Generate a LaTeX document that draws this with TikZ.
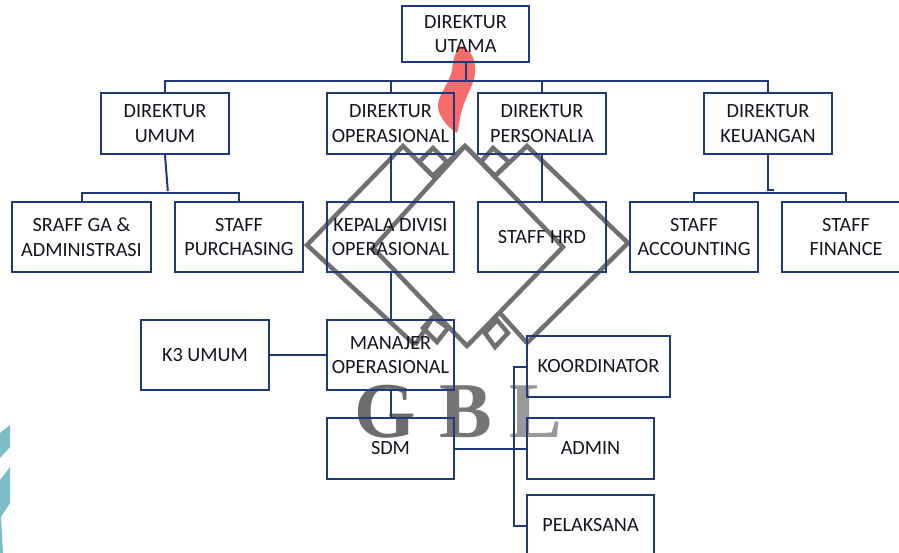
\documentclass[tikz,border=0pt]{standalone}
\usepackage{fontspec}
\setmainfont{Carlito}
\newfontfamily\wmfont{Liberation Serif}
\definecolor{boxline}{HTML}{1F3A78}
\definecolor{wmgrey}{HTML}{707070}
\definecolor{smear}{HTML}{F96B6B}
\definecolor{tealbar}{HTML}{7ABDC6}
\definecolor{inktext}{HTML}{14141E}
\tikzset{
  orgbox/.style={draw=boxline,line width=2pt,minimum width=#1,inner sep=0pt,align=center,
    font=\fontsize{20.2}{24.5}\selectfont,text=inktext},
  orgbox/.default=127.5pt,
  link/.style={draw=boxline,line width=2pt},
  wmline/.style={draw=wmgrey,line width=4.5pt,line join=miter}
}
\begin{document}
\begin{tikzpicture}[x=1pt,y=-1pt]
\useasboundingbox (0,0) rectangle (899,553);
% background marks
\fill[tealbar] (0,433) -- (10,425) -- (10,447) -- (0,458) -- cycle;
\fill[tealbar] (0,480) -- (10,467) -- (10,503) -- (1,517) -- (3,553) -- (0,553) -- cycle;
% watermark
\draw[wmline] (433,176) -- (403,146) -- (307,245) -- (415,345);
\draw[wmline] (465,146) -- (373,248) -- (467,346) -- (563,247) -- cycle;
\draw[wmline] (433,176) -- (465,146);
\draw[wmline] (495,176) -- (527,146) -- (628,243) -- (527,343);
\draw[wmline] (495,176) -- (465,146);
\draw[wmline] (500,313) -- (527,343);
\draw[wmline] (433,317) -- (415,345);
\draw[wmline] (433,148) -- (447,162) -- (433,176) -- (419,162) -- cycle;
\draw[wmline] (493,148) -- (509,162) -- (495,176) -- (481,162) -- cycle;
\draw[wmline] (433,317) -- (448,328) -- (437,342) -- (423,328) -- cycle;
\draw[wmline] (497,320) -- (508,333) -- (495,347) -- (485,333) -- cycle;
\node[anchor=base west,font=\wmfont\bfseries\fontsize{79}{79}\selectfont,inner sep=0pt] (gbl) at (354,437)
  {\textcolor[HTML]{6C6C6C}{G}\kern24pt\textcolor[HTML]{757575}{B}\kern17pt\textcolor[HTML]{999999}{L}};
% smear
\fill[smear] (462,46) .. controls (470,50) and (476,58) .. (475,73)
  .. controls (474,85) and (466,95) .. (462,110)
  .. controls (459,120) and (459,128) .. (457,133)
  .. controls (447,127) and (437,115) .. (438,104)
  .. controls (440,92) and (450,82) .. (452,70)
  .. controls (453,60) and (455,50) .. (462,46) -- cycle;
% boxes
\node[orgbox,minimum height=56pt] (ceo) at (465.5,34) {DIREKTUR\\UTAMA};
\node[orgbox,minimum height=61pt] (umum) at (165,123.5) {DIREKTUR\\UMUM};
\node[orgbox,minimum height=61pt] (ops) at (390.5,123.5) {DIREKTUR\\OPERASIONAL};
\node[orgbox,minimum height=61pt] (pers) at (542,123.5) {DIREKTUR\\PERSONALIA};
\node[orgbox,minimum height=61pt] (keu) at (768,123.5) {DIREKTUR\\KEUANGAN};
\node[orgbox=139pt,minimum height=70pt] (ga) at (81.5,237) {SRAFF GA \&\\ADMINISTRASI};
\node[orgbox,minimum height=70pt] (purch) at (239,237) {STAFF\\PURCHASING};
\node[orgbox,minimum height=70pt] (kadiv) at (390.5,237) {KEPALA DIVISI\\OPERASIONAL};
\node[orgbox,minimum height=70pt] (hrd) at (542,237) {STAFF HRD};
\node[orgbox,minimum height=70pt] (acc) at (694,237) {STAFF\\ACCOUNTING};
\node[orgbox,minimum height=70pt] (fin) at (846,237) {STAFF\\FINANCE};
\node[orgbox,minimum height=70pt] (k3) at (205,355) {K3 UMUM};
\node[orgbox,minimum height=70pt] (mgr) at (390.5,355) {MANAJER\\OPERASIONAL};
\node[orgbox,minimum height=61pt] (sdm) at (390.5,448.5) {SDM};
\node[orgbox=143pt,minimum height=61pt] (koor) at (598.5,366.5) {KOORDINATOR};
\node[orgbox,minimum height=61pt] (admin) at (590.5,448.5) {ADMIN};
\node[orgbox,minimum height=61pt] (pel) at (590.5,525.5) {PELAKSANA};
% connectors
\coordinate (busc) at (465.5,81);
\draw[link] (ceo.south) -- (busc);
\draw[link] (umum.north) |- (busc) -| (keu.north);
\draw[link] (ops.north) -- (ops.north |- busc);
\draw[link] (pers.north) -- (pers.north |- busc);
\coordinate (busu) at (167.5,193);
\coordinate (endu) at (167.8,191);
\draw[link] (umum.south) -- (endu);
\draw[link] (ga.north -| 82,0) |- (busu) -| (purch.north);
\coordinate (busk) at (771,193);
\coordinate (jog) at (768,190);
\coordinate (jogend) at (774,190);
\draw[link] (keu.south) -- (jog) -- (jogend);
\draw[link] (acc.north) |- (busk) -| (fin.north);
\draw[link] (ops.south) -- (kadiv.north);
\draw[link] (pers.south) -- (hrd.north);
\draw[link] (kadiv.south) -- (mgr.north);
\draw[link] (k3.east) -- (mgr.west);
\draw[link] (mgr.south) -- (sdm.north);
\draw[link] (sdm.east) -- (admin.west);
\coordinate (busr) at (514,449);
\draw[link] (koor.west) -| (busr) |- (pel.west);
\end{tikzpicture}
\end{document}
